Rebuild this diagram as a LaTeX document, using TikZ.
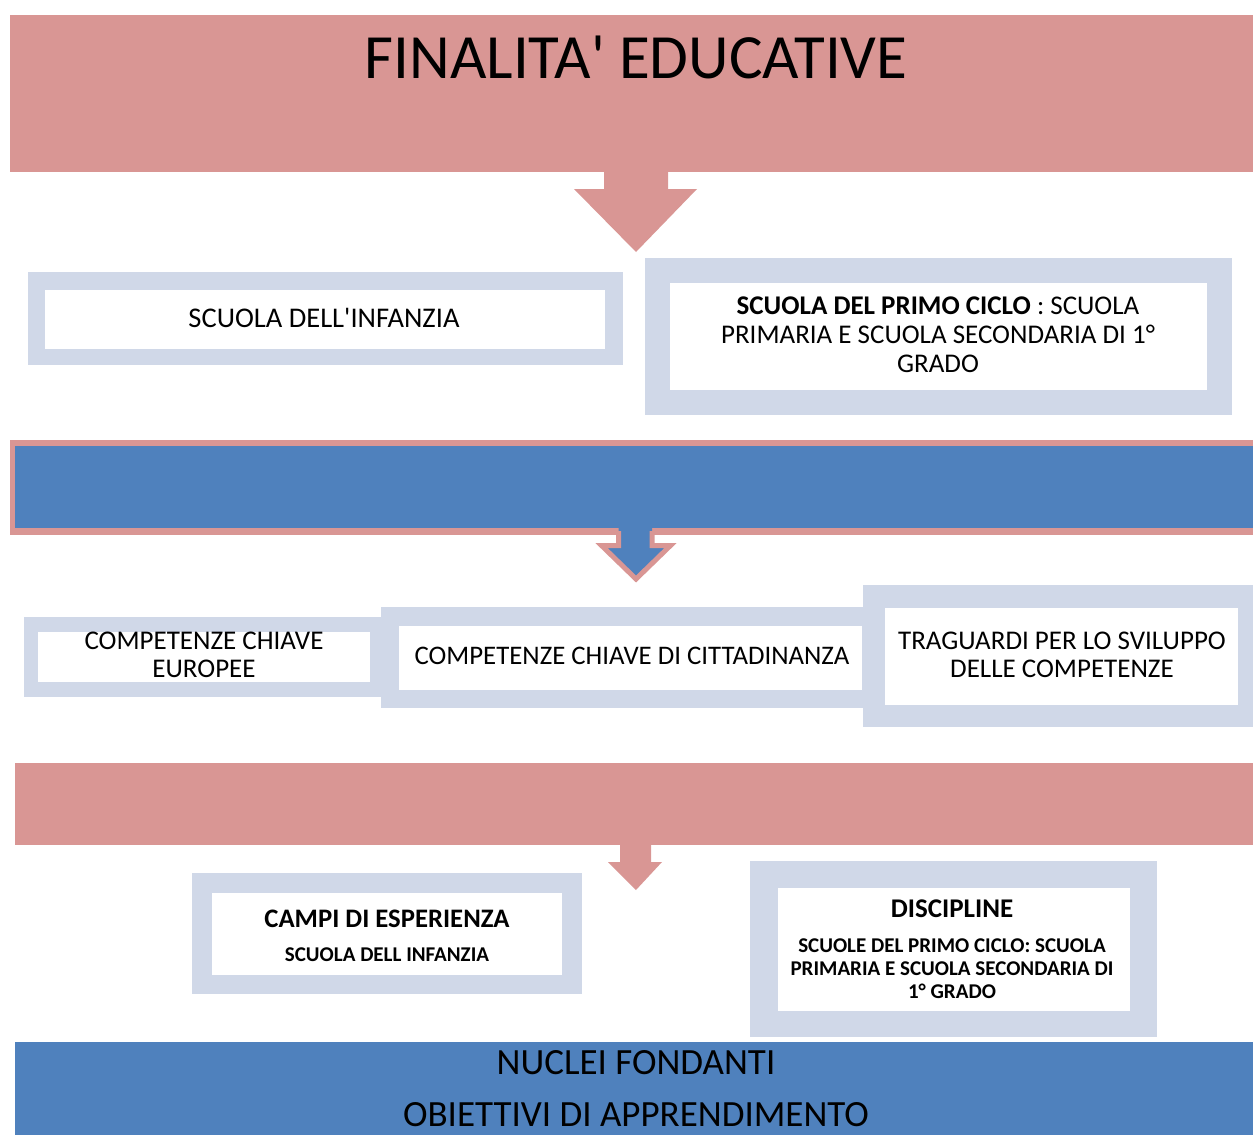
\documentclass[tikz,border=0pt]{standalone}
\usepackage{fontspec}
\newfontfamily\cf{Carlito}
\definecolor{pinkc}{HTML}{D99694}
\definecolor{bluec}{HTML}{4F81BD}
\definecolor{greyc}{HTML}{D0D8E8}
\tikzset{
  blk/.style={rectangle, inner sep=0pt, outer sep=0pt},
  band/.style={blk, fill=pinkc},
  bband/.style={blk, fill=bluec},
  outerbox/.style={blk, fill=greyc},
  innerbox/.style={blk, fill=white, font=\cf\fontsize{27.5}{29}\selectfont, align=center, text=black},
  txt/.style={inner sep=0pt, outer sep=0pt, text=black},
  pinkarrow/.style={fill=pinkc},
}
\begin{document}
\begin{tikzpicture}[x=1pt,y=-1pt]
\useasboundingbox (0,0) rectangle (1253,1135);
\clip (0,0) rectangle (1253,1135);

% top band
\node[band, minimum width=1250pt, minimum height=157pt] (top) at (635,93.5) {};
\node[txt, anchor=base, font=\cf\fontsize{63}{63}\selectfont] (title) at (636,78) {FINALITA' EDUCATIVE};
\fill[pinkarrow] (604,170) -- (668,170) -- (668,189) -- (697,189) -- (636,252) -- (574,189) -- (604,189) -- cycle;

% school boxes
\node[outerbox, minimum width=595pt, minimum height=93pt] (infO) at (325.5,318.5) {};
\node[innerbox, minimum width=560pt, minimum height=59pt] (inf) at (325,319.5) {};
\node[txt, anchor=base, font=\cf\fontsize{28.5}{29}\selectfont] (infT) at (324,327.5) {SCUOLA DELL'INFANZIA};

\node[outerbox, minimum width=587pt, minimum height=157pt] (priO) at (938.5,336.5) {};
\node[innerbox, minimum width=537pt, minimum height=107pt] (pri) at (938.5,336.5) {};
\node[txt, align=center, font=\cf\fontsize{27}{29}\selectfont] (priT) at (938,335)
  {\textbf{SCUOLA DEL PRIMO CICLO} : SCUOLA\\PRIMARIA E SCUOLA SECONDARIA DI 1°\\GRADO};

% blue band 1
\node[blk, fill=pinkc, minimum width=1250pt, minimum height=95pt] (b1o) at (635,487.5) {};
\node[bband, minimum width=1245pt, minimum height=82pt] (b1) at (637.5,487) {};
\fill[bluec] (618.5,527) -- (618.5,545.5) -- (601.5,545.5) -- (636,579) -- (670.5,545.5) -- (652,545.5) -- (652,527) -- cycle;
\draw[pinkc, line width=5pt, line join=miter] (618.5,531) -- (618.5,545.5) -- (601.5,545.5) -- (636,579) -- (670.5,545.5) -- (652,545.5) -- (652,531);

% competence row
\node[outerbox, minimum width=358pt, minimum height=80pt] (eurO) at (203,657) {};
\node[innerbox, minimum width=332pt, minimum height=50pt] (eur) at (204,657) {};
\node[txt, align=center, font=\cf\fontsize{27}{28}\selectfont] (eurT) at (204,655) {COMPETENZE CHIAVE\\EUROPEE};

\node[outerbox, minimum width=485pt, minimum height=101pt] (citO) at (623.5,657.5) {};
\node[innerbox, minimum width=463pt, minimum height=64pt] (cit) at (630.5,658) {};
\node[txt, font=\cf\fontsize{26.8}{28}\selectfont] (citT) at (632,656) {COMPETENZE CHIAVE DI CITTADINANZA};

\node[outerbox, minimum width=397pt, minimum height=142pt] (traO) at (1061.5,656) {};
\node[innerbox, minimum width=353pt, minimum height=97pt] (tra) at (1061.5,656.5) {};
\node[txt, align=center, font=\cf\fontsize{27}{28}\selectfont] (traT) at (1062,655) {TRAGUARDI PER LO SVILUPPO\\DELLE COMPETENZE};

% pink band 2
\node[band, minimum width=1245pt, minimum height=82pt] (p2) at (637.5,804) {};
\fill[pinkarrow] (620,843) -- (651,843) -- (651,862) -- (662,862) -- (636,890) -- (608,862) -- (620,862) -- cycle;

% campi
\node[outerbox, minimum width=390pt, minimum height=121pt] (camO) at (387,933.5) {};
\node[innerbox, minimum width=350pt, minimum height=82pt] (cam) at (387,934) {};
\node[txt, anchor=base, font=\cf\bfseries\fontsize{26.7}{26.7}\selectfont] (camT) at (387,927) {CAMPI DI ESPERIENZA};
\node[txt, anchor=base, font=\cf\bfseries\fontsize{21}{21}\selectfont] (camS) at (387,961) {SCUOLA DELL INFANZIA};

% discipline
\node[outerbox, minimum width=407pt, minimum height=176pt] (disO) at (953.5,949) {};
\node[innerbox, minimum width=352pt, minimum height=123pt] (dis) at (954,949.5) {};
\node[txt, anchor=base, font=\cf\bfseries\fontsize{27}{27}\selectfont] (disT) at (952,917) {DISCIPLINE};
\node[txt, align=center, font=\cf\bfseries\fontsize{21}{23}\selectfont] (disS) at (952,969)
  {SCUOLE DEL PRIMO CICLO: SCUOLA\\PRIMARIA E SCUOLA SECONDARIA DI\\1° GRADO};

% bottom band
\node[bband, minimum width=1245pt, minimum height=98pt] (b2) at (637.5,1091) {};
\node[txt, anchor=base, font=\cf\fontsize{37}{37}\selectfont] (nuc) at (636,1074) {NUCLEI FONDANTI};
\node[txt, anchor=base, font=\cf\fontsize{37}{37}\selectfont] (obi) at (636,1126) {OBIETTIVI DI APPRENDIMENTO};
\end{tikzpicture}
\end{document}
